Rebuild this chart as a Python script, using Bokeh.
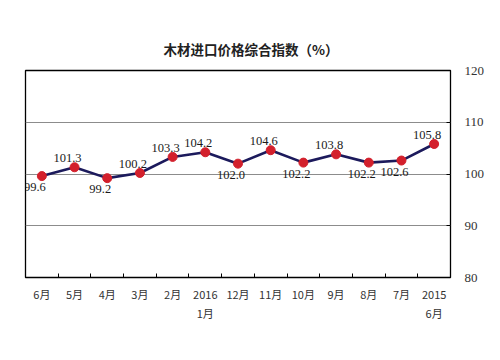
import numpy as np
from bokeh.plotting import figure
from bokeh.models import FixedTicker, Range1d, ColumnDataSource
from bokeh.core.properties import value
from bokeh.embed import file_html
from bokeh.resources import INLINE

# ---- data (left to right as in the reference) ----
months = ["6月", "5月", "4月", "3月", "2月", "2016\n1月", "12月", "11月",
          "10月", "9月", "8月", "7月", "2015\n6月"]
index_values = [99.6, 101.3, 99.2, 100.2, 103.3, 104.2, 102.0, 104.6,
                102.2, 103.8, 102.2, 102.6, 105.8]
label_texts = ["99.6", "101.3", "99.2", "100.2", "103.3", "104.2", "102.0",
               "104.6", "102.2", "103.8", "102.2", "102.6", "105.8"]
label_above = [False, True, False, True, True, True, False, True,
               False, True, False, False, True]
y_ticks = [80, 90, 100, 110, 120]

n = len(months)
xs = list(np.arange(n) + 0.5)

p = figure(frame_width=425, frame_height=207, output_backend="svg",
           toolbar_location=None, x_range=Range1d(0, n), y_range=Range1d(80, 120),
           y_axis_location="right",
           min_border_left=25, min_border_right=40, min_border_top=70,
           min_border_bottom=75)

p.title.text = "木材进口价格综合指数（%）"
p.title.align = "left"
p.title.offset = 138
p.title.standoff = 23
p.title.text_font = "Noto Sans CJK SC"
p.title.text_font_size = "13.5px"
p.title.text_font_style = "bold"
p.title.text_color = "#222222"

p.outline_line_color = "black"
p.outline_line_width = 1.3
p.background_fill_color = "white"
p.border_fill_color = "white"

# x axis: labels centred on categories, ticks at boundaries (minor ticks)
p.xaxis.ticker = FixedTicker(ticks=xs, minor_ticks=list(range(1, n)))
p.xaxis.major_label_overrides = {float(x): m for x, m in zip(xs, months)}
p.xaxis.major_tick_in = 0
p.xaxis.major_tick_out = 0
p.xaxis.minor_tick_in = 4
p.xaxis.minor_tick_out = 0
p.xaxis.minor_tick_line_color = "black"
p.xaxis.axis_line_color = None
p.xaxis.major_label_standoff = 8
p.xaxis.major_label_text_font = "Noto Sans CJK SC"
p.xaxis.major_label_text_font_size = "11px"
p.xaxis.major_label_text_color = "#333333"
p.xgrid.grid_line_color = None

# y axis on the right
p.yaxis.ticker = FixedTicker(ticks=y_ticks)
p.yaxis.major_tick_in = 4
p.yaxis.major_tick_out = 0
p.yaxis.major_tick_line_color = "black"
p.yaxis.minor_tick_line_color = None
p.yaxis.axis_line_color = None
p.yaxis.major_label_standoff = 14
p.yaxis.major_label_text_font = "Liberation Serif"
p.yaxis.major_label_text_font_size = "13px"
p.yaxis.major_label_text_color = "#333333"
p.ygrid.grid_line_color = "#8c8c8c"
p.ygrid.grid_line_width = 1

src = ColumnDataSource(dict(x=xs, y=index_values, t=label_texts))
p.line("x", "y", source=src, line_color="#1c1a5c", line_width=2.6)
p.scatter("x", "y", source=src, size=9, fill_color="#d3202c", line_color="#d3202c")

up = [i for i in range(n) if label_above[i]]
dn = [i for i in range(n) if not label_above[i]]
for idx, yoff in ((up, -9), (dn, 11)):
    s = ColumnDataSource(dict(x=[xs[i] for i in idx], y=[index_values[i] for i in idx],
                              t=[label_texts[i] for i in idx]))
    p.text("x", "y", text="t", source=s, x_offset=-7, y_offset=yoff,
           text_align="center", text_baseline="middle",
           text_font=value("Liberation Serif"), text_font_size="12.5px",
           text_color="#1a1a1a")

open("out.html", "w").write(file_html(p, INLINE))
